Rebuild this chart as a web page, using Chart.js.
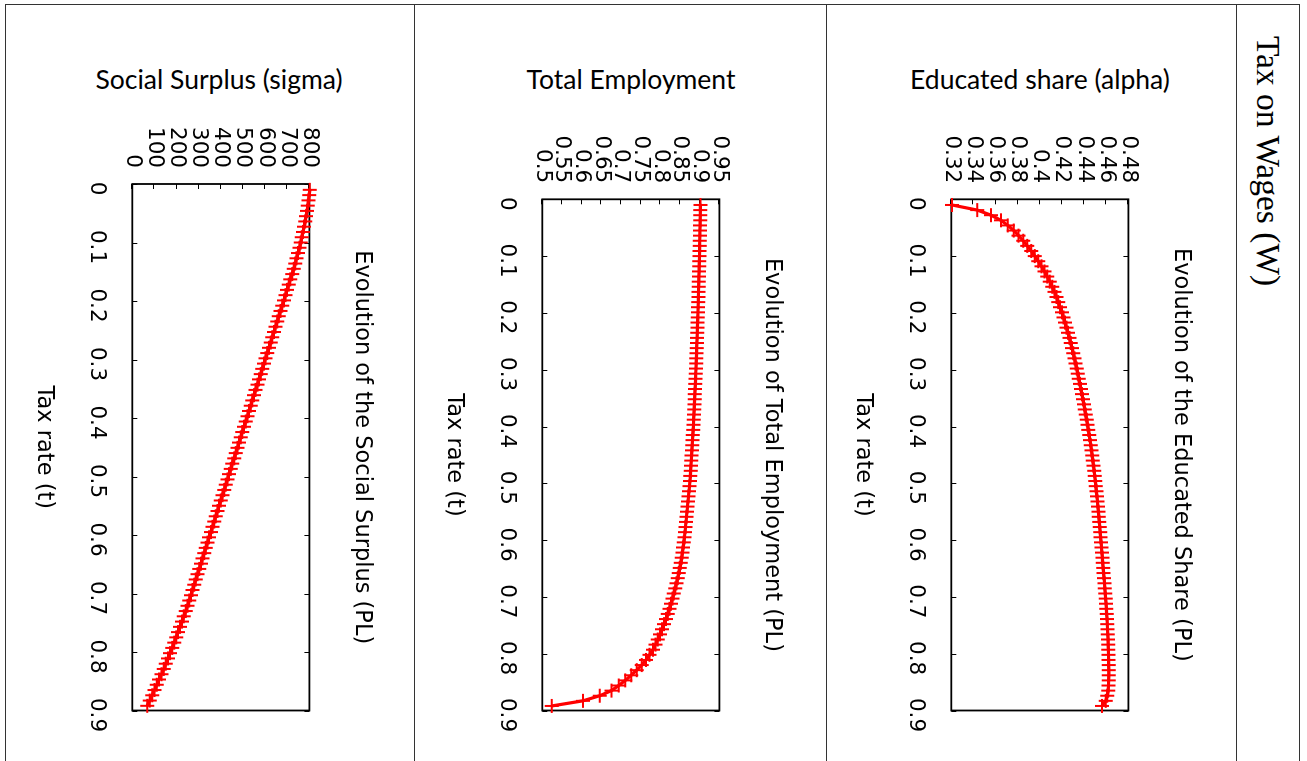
<!DOCTYPE html>
<html>
<head>
<meta charset="utf-8">
<script src="https://cdn.jsdelivr.net/npm/chart.js@4/dist/chart.umd.min.js"></script>
<style>
  html, body { margin: 0; padding: 0; background: #fff; }
  body { width: 1307px; height: 761px; position: relative; overflow: hidden; }
  .vline { position: absolute; top: 4px; width: 1px; height: 757px; background: #333; }
  .hline { position: absolute; top: 4px; left: 5px; width: 1295px; height: 1px; background: #333; }
  .head { position: absolute; top: 66px; width: 400px; text-align: center; font-family: Lato, "Open Sans", sans-serif; font-size: 26.5px; line-height: 26px; color: #000; white-space: nowrap; }
  .side { position: absolute; left: 1252px; top: 36px; writing-mode: vertical-rl; font-family: "Liberation Serif", serif; font-size: 33.5px; line-height: 33px; color: #000; white-space: nowrap; }
  .panel { position: absolute; top: 110px; width: 640px; height: 390px; transform-origin: 0 0; transform: translateX(390px) rotate(90deg); }
</style>
</head>
<body>
<div class="hline"></div>
<div class="vline" style="left:5px"></div>
<div class="vline" style="left:414px"></div>
<div class="vline" style="left:826px"></div>
<div class="vline" style="left:1236px"></div>
<div class="vline" style="left:1299px"></div>

<div class="head" style="left:19px">Social Surplus (sigma)</div>
<div class="head" style="left:431px">Total Employment</div>
<div class="head" style="left:840px">Educated share (alpha)</div>
<div class="side">Tax on Wages (W)</div>

<div class="panel" style="left:15px"><canvas id="c3" width="640" height="390"></canvas></div>
<div class="panel" style="left:425px"><canvas id="c2" width="640" height="390"></canvas></div>
<div class="panel" style="left:834px"><canvas id="c1" width="640" height="390"></canvas></div>

<script>
// Tax rate grid (t)
const taxRate = [0.010,0.019,0.028,0.037,0.046,0.055,0.064,0.073,0.082,0.091,
0.100,0.109,0.118,0.127,0.136,0.145,0.154,0.163,0.172,0.181,
0.190,0.199,0.208,0.217,0.226,0.235,0.244,0.253,0.262,0.271,
0.280,0.289,0.298,0.307,0.316,0.325,0.334,0.343,0.352,0.361,
0.370,0.379,0.388,0.397,0.406,0.415,0.424,0.433,0.442,0.451,
0.460,0.469,0.478,0.487,0.496,0.505,0.514,0.523,0.532,0.541,
0.550,0.559,0.568,0.577,0.586,0.595,0.604,0.613,0.622,0.631,
0.640,0.649,0.658,0.667,0.676,0.685,0.694,0.703,0.712,0.721,
0.730,0.739,0.748,0.757,0.766,0.775,0.784,0.793,0.802,0.811,
0.820,0.829,0.838,0.847,0.856,0.865,0.874,0.883,0.892];

// Educated share (alpha)
const educatedShare = [0.3206,0.3435,0.3559,0.3649,0.3711,0.3765,0.3808,0.3849,0.3887,0.3923,
0.3955,0.3986,0.4014,0.4042,0.4067,0.4090,0.4112,0.4132,0.4150,0.4167,
0.4183,0.4199,0.4213,0.4227,0.4241,0.4254,0.4267,0.4279,0.4291,0.4302,
0.4313,0.4323,0.4333,0.4343,0.4352,0.4362,0.4371,0.4380,0.4389,0.4398,
0.4406,0.4414,0.4423,0.4431,0.4438,0.4446,0.4453,0.4460,0.4467,0.4473,
0.4479,0.4485,0.4491,0.4496,0.4501,0.4506,0.4511,0.4516,0.4521,0.4525,
0.4529,0.4533,0.4537,0.4541,0.4545,0.4549,0.4553,0.4557,0.4561,0.4565,
0.4568,0.4572,0.4576,0.4580,0.4584,0.4587,0.4591,0.4595,0.4598,0.4601,
0.4604,0.4607,0.4609,0.4611,0.4614,0.4616,0.4617,0.4619,0.4620,0.4621,
0.4622,0.4623,0.4623,0.4622,0.4620,0.4617,0.4609,0.4595,0.4562];

// Total employment
const totalEmployment = [0.9019,0.9016,0.9014,0.9011,0.9009,0.9006,0.9004,0.9001,0.8999,0.8996,
0.8994,0.8990,0.8987,0.8983,0.8980,0.8976,0.8973,0.8969,0.8966,0.8962,
0.8959,0.8956,0.8951,0.8946,0.8942,0.8937,0.8932,0.8928,0.8923,0.8919,
0.8914,0.8909,0.8905,0.8899,0.8894,0.8888,0.8882,0.8876,0.8871,0.8865,
0.8859,0.8853,0.8847,0.8842,0.8834,0.8825,0.8817,0.8809,0.8801,0.8793,
0.8785,0.8777,0.8769,0.8761,0.8753,0.8740,0.8728,0.8715,0.8702,0.8690,
0.8677,0.8664,0.8652,0.8639,0.8626,0.8614,0.8596,0.8578,0.8561,0.8543,
0.8520,0.8495,0.8469,0.8441,0.8411,0.8378,0.8343,0.8307,0.8269,0.8229,
0.8186,0.8140,0.8092,0.8041,0.7988,0.7932,0.7874,0.7811,0.7727,0.7634,
0.7530,0.7398,0.7259,0.7107,0.6942,0.6757,0.6461,0.6031,0.5238];

// Social surplus (sigma)
const socialSurplus = [802,799,796,793,789,785,781,776,771,766,
761,755,749,742,736,729,722,714,707,699,
692,685,677,670,662,655,647,640,632,625,
617,610,602,595,587,580,572,565,557,550,
542,535,527,520,512,505,497,490,482,475,
467,460,452,445,437,430,422,415,407,400,
392,385,377,370,362,355,347,340,332,325,
317,310,302,295,287,280,272,265,257,249,
241,232,224,215,206,198,189,180,170,161,
151,142,132,121,111,100,90,79,67];

// Axis tick settings
const taxTicks = {min: 0, max: 0.9, step: 0.1};
const educatedTicks = {min: 0.32, max: 0.48, step: 0.02};
const employmentTicks = {min: 0.5, max: 0.95, step: 0.05};
const surplusTicks = {min: 0, max: 800, step: 100};

const TICK_FONT = {family: 'DejaVu Sans', size: 21.5, weight: 'normal', lineHeight: 1.2};
const TITLE_FONT = {family: 'DejaVu Sans', size: 22.5, weight: 'normal', lineHeight: 1.2};

const frameTicks = {
  id: 'frameTicks',
  beforeDatasetsDraw(chart) {
    const {ctx, chartArea: a, scales: {x, y}} = chart;
    ctx.save();
    ctx.strokeStyle = '#000';
    ctx.lineWidth = 1;
    ctx.beginPath();
    x.ticks.forEach(t => {
      const px = Math.round(x.getPixelForValue(t.value)) + 0.5;
      ctx.moveTo(px, a.bottom); ctx.lineTo(px, a.bottom - 5);
      ctx.moveTo(px, a.top); ctx.lineTo(px, a.top + 5);
    });
    y.ticks.forEach(t => {
      const py = Math.round(y.getPixelForValue(t.value)) + 0.5;
      ctx.moveTo(a.left, py); ctx.lineTo(a.left + 5, py);
    });
    ctx.stroke();
    ctx.lineWidth = 1.8;
    ctx.strokeRect(a.left, a.top, a.right - a.left, a.bottom - a.top);
    ctx.restore();
  }
};

const fmt = v => String(Math.round(v * 1000) / 1000);

function makeChart(id, values, yt, title, plotLeft) {
  const pts = taxRate.map((t, i) => ({x: t, y: values[i]}));
  return new Chart(document.getElementById(id), {
    type: 'line',
    data: {datasets: [{
      data: pts,
      borderColor: '#ff0000',
      backgroundColor: '#ff0000',
      borderWidth: 3.2,
      pointStyle: 'cross',
      pointRadius: 7,
      pointBorderWidth: 2,
      pointBorderColor: '#ff0000',
      tension: 0,
      fill: false,
      clip: false
    }]},
    options: {
      responsive: false,
      animation: false,
      devicePixelRatio: 1,
      events: [],
      layout: {padding: {left: 0, right: 30, top: 0, bottom: 15.8}},
      plugins: {
        legend: {display: false},
        tooltip: {enabled: false},
        title: {
          display: true, text: title, color: '#000', font: TITLE_FONT,
          fullSize: false, padding: {top: 29.8, bottom: 38.8}
        }
      },
      scales: {
        x: {
          type: 'linear', min: taxTicks.min, max: taxTicks.max,
          grid: {display: false, drawTicks: false},
          border: {display: false},
          ticks: {stepSize: taxTicks.step, autoSkip: false, maxRotation: 0, minRotation: 0,
                  padding: 22.4, labelOffset: 4.5, color: '#000', font: TICK_FONT, callback: fmt},
          title: {display: true, text: 'Tax rate (t)', color: '#000', font: TITLE_FONT, padding: 0},
          afterFit: s => { s.height = 101.5; }
        },
        y: {
          type: 'linear', min: yt.min, max: yt.max,
          grid: {display: false, drawTicks: false},
          border: {display: false},
          ticks: {stepSize: yt.step, autoSkip: false, padding: 16, color: '#000', font: TICK_FONT, callback: fmt},
          afterFit: s => { s.width = plotLeft; }
        }
      }
    },
    plugins: [frameTicks]
  });
}

makeChart('c1', educatedShare, educatedTicks, 'Evolution of the Educated Share (PL)', 89.3);
makeChart('c2', totalEmployment, employmentTicks, 'Evolution of Total Employment (PL)', 89.3);
makeChart('c3', socialSurplus, surplusTicks, 'Evolution of the Social Surplus (PL)', 74);
</script>
</body>
</html>
